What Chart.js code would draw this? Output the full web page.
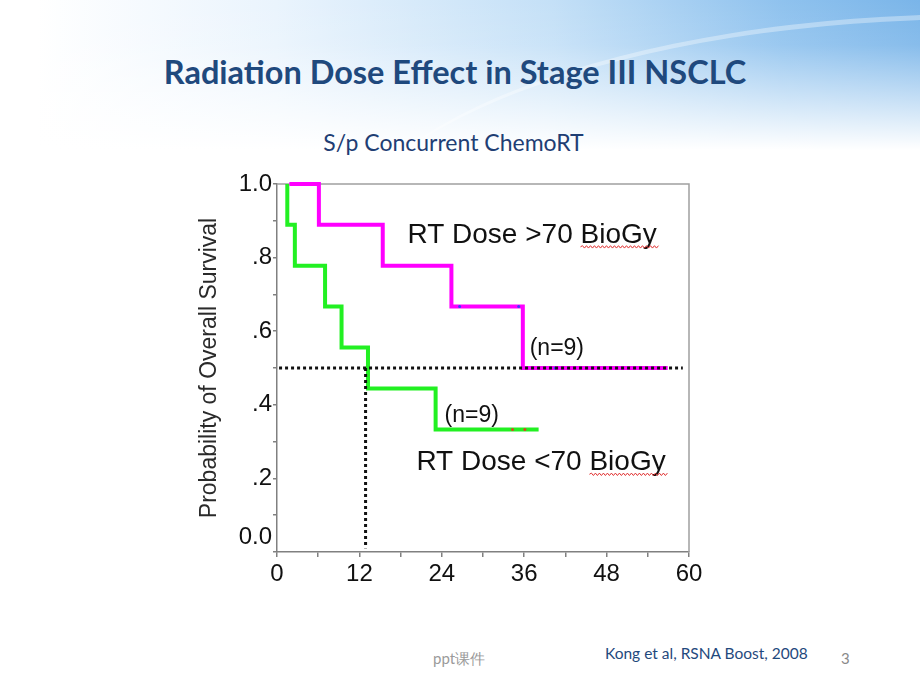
<!DOCTYPE html>
<html>
<head>
<meta charset="utf-8">
<script src="https://cdn.jsdelivr.net/npm/chart.js@4"></script>
<style>
  html, body { margin: 0; padding: 0; background: #fff; }
  #slide { position: relative; width: 920px; height: 690px; overflow: hidden; background: #fff; font-family: Lato, 'Open Sans', sans-serif; }
  #header { position: absolute; left: 0; top: 0; width: 920px; height: 150px;
    background:
      linear-gradient(to bottom, rgba(255,255,255,0) 0%, rgba(255,255,255,0.1) 30%, #fff 100%),
      linear-gradient(90deg, #ffffff 4%, #eaf4fd 30%, #c4e0f7 60%, #8fc2ee 85%, #7ab5e9 100%); }
  #swoosh { position: absolute; left: 330px; top: 14px; width: 1300px; height: 500px; border-radius: 50%;
    border-top: 5px solid rgba(255,255,255,0.35); }
  #title { position: absolute; left: 0; width: 910px; top: 52px; text-align: center;
    font-weight: 700; font-size: 32.5px; color: #1f497d; }
  #subtitle { position: absolute; left: 0; width: 907px; top: 128px; text-align: center;
    font-size: 23px; color: #1f3e74; }
  #chartBox { position: absolute; left: 190px; top: 160px; width: 520px; height: 440px; }
  .foot { position: absolute; }
  #src { left: 605px; top: 644px; font-size: 15.5px; color: #1f497d; }
  #ppt { left: 433px; top: 649px; font-size: 15px; color: #9a9a9a; }
  #page { left: 841px; top: 649px; font-size: 15px; color: #8a8a8a; }
</style>
</head>
<body>
<div id="slide">
  <div id="header"></div>
  <div id="swoosh"></div>
  <div id="title">Radiation Dose Effect in Stage III NSCLC</div>
  <div id="subtitle">S/p Concurrent ChemoRT</div>
  <div id="chartBox"><canvas id="kmChart"></canvas></div>
  <div class="foot" id="ppt">ppt课件</div>
  <div class="foot" id="src">Kong et al, RSNA Boost, 2008</div>
  <div class="foot" id="page">3</div>
</div>
<script>
// Kaplan-Meier steps (months, survival probability)
const monthsHigh = [1.8, 6.1, 15.4, 25.4, 35.8, 56.9];
const survivalHigh = [1.0, 0.889, 0.778, 0.667, 0.5, 0.5];
const monthsLow = [1.5, 1.5, 2.6, 7.0, 9.4, 13.25, 23.1, 38.1];
const survivalLow = [1.0, 0.889, 0.778, 0.667, 0.556, 0.444, 0.333, 0.333];

// censor marks
const censorHighMonths = [26.6, 35.2, 40.5];
const censorHighSurv = [0.667, 0.667, 0.5];
const censorLowMonths = [34.3, 36.1];
const censorLowSurv = [0.333, 0.333];

// median guide lines
const medianSurv = 0.5;
const medianLineMonths = [0.3, 59.1];
const medianLowMonth = 12.9;

const xMax = 60;
const xStep = 6;
const yStep = 0.1;

const groupLabels = ['RT Dose >70 BioGy', 'RT Dose <70 BioGy'];
const countLabels = ['(n=9)', '(n=9)'];

const toPoints = (xs, ys) => xs.map((x, i) => ({ x: x, y: ys[i] }));

const narrow = "'Liberation Sans Narrow', 'Liberation Sans', Arial, sans-serif";
const sans = "'Liberation Sans', Arial, sans-serif";

// text placed in data coordinates
const notes = [
  { text: groupLabels[0], x: 19.0, y: 0.84, size: 28, squiggle: 'BioGy' },
  { text: countLabels[0], x: 36.8, y: 0.535, size: 23 },
  { text: countLabels[1], x: 24.4, y: 0.352, size: 23 },
  { text: groupLabels[1], x: 20.3, y: 0.222, size: 28, squiggle: 'BioGy' }
];

const framePlugin = {
  id: 'frame',
  beforeDatasetsDraw(chart) {
    const a = chart.chartArea;
    const ctx = chart.ctx;
    ctx.save();
    ctx.strokeStyle = '#a0a0a0';
    ctx.lineWidth = 1.5;
    ctx.beginPath();
    ctx.moveTo(a.left, a.top);
    ctx.lineTo(a.right, a.top);
    ctx.lineTo(a.right, a.bottom);
    ctx.stroke();
    ctx.restore();
  },
  afterDraw(chart) {
    // SPSS lifts the zero label above the corner
    const ys = chart.scales.y;
    const ctx = chart.ctx;
    ctx.save();
    ctx.font = '24px ' + narrow;
    ctx.fillStyle = '#111';
    ctx.textAlign = 'right';
    ctx.textBaseline = 'middle';
    ctx.fillText('0.0', ys.right - 5, ys.getPixelForValue(0) - 15);
    ctx.restore();
  }
};

const notesPlugin = {
  id: 'notes',
  afterDatasetsDraw(chart) {
    const ctx = chart.ctx;
    const xs = chart.scales.x, ys = chart.scales.y;
    ctx.save();
    notes.forEach(n => {
      const px = xs.getPixelForValue(n.x);
      const py = ys.getPixelForValue(n.y);
      ctx.font = n.size + 'px ' + sans;
      ctx.fillStyle = '#111';
      ctx.textBaseline = 'alphabetic';
      ctx.textAlign = 'left';
      ctx.fillText(n.text, px, py);
      if (n.squiggle) {
        const full = ctx.measureText(n.text).width;
        const w = ctx.measureText(n.squiggle).width;
        const sx = px + full - w;
        const sy = py + 4;
        ctx.strokeStyle = '#e03030';
        ctx.lineWidth = 1;
        ctx.beginPath();
        ctx.moveTo(sx, sy);
        let up = true;
        for (let x = sx; x < sx + w; x += 2) {
          ctx.lineTo(x + 2, sy + (up ? -1.2 : 1.2));
          up = !up;
        }
        ctx.stroke();
      }
    });
    ctx.restore();
  }
};

new Chart(document.getElementById('kmChart'), {
  type: 'line',
  data: {
    datasets: [
      {
        label: 'median',
        data: toPoints(medianLineMonths, [medianSurv, medianSurv]),
        borderColor: '#111',
        borderWidth: 3,
        borderDash: [3, 3],
        pointRadius: 0,
        clip: 8
      },
      {
        label: 'median low',
        data: toPoints([medianLowMonth, medianLowMonth], [medianSurv, 0.01]),
        borderColor: '#111',
        borderWidth: 3,
        borderDash: [3, 3],
        pointRadius: 0,
        clip: 8
      },
      {
        label: 'censor high',
        data: toPoints(censorHighMonths, censorHighSurv),
        showLine: false,
        pointRadius: 1.5,
        pointBackgroundColor: '#3b3bff',
        pointBorderWidth: 0,
        clip: 8
      },
      {
        label: 'censor low',
        data: toPoints(censorLowMonths, censorLowSurv),
        showLine: false,
        pointRadius: 1.5,
        pointBackgroundColor: '#e04020',
        pointBorderWidth: 0,
        clip: 8
      },
      {
        label: groupLabels[0],
        data: toPoints(monthsHigh, survivalHigh),
        stepped: 'before',
        borderColor: '#ff00ff',
        borderWidth: 4,
        pointRadius: 0,
        borderCapStyle: 'butt',
        borderJoinStyle: 'miter',
        clip: 8
      },
      {
        label: groupLabels[1],
        data: toPoints(monthsLow, survivalLow),
        stepped: 'before',
        borderColor: '#22f022',
        borderWidth: 4,
        pointRadius: 0,
        borderCapStyle: 'butt',
        borderJoinStyle: 'miter',
        clip: 8
      }
    ]
  },
  options: {
    responsive: true,
    maintainAspectRatio: false,
    animation: false,
    layout: { padding: { left: 0, right: 21, top: 24, bottom: 0 } },
    plugins: {
      legend: { display: false },
      tooltip: { enabled: false }
    },
    scales: {
      x: {
        type: 'linear',
        min: 0,
        max: xMax,
        afterFit(scale) { scale.height = 48; },
        border: { color: '#808080', width: 1.5 },
        grid: { drawOnChartArea: false, drawTicks: true, tickLength: 5, color: '#808080', lineWidth: 1.5 },
        ticks: {
          stepSize: xStep,
          padding: 3,
          maxRotation: 0,
          color: '#111',
          font: { family: narrow, size: 24 },
          callback: v => (v % 12 === 0 ? String(v) : '')
        }
      },
      y: {
        min: 0,
        max: 1,
        afterFit(scale) { scale.width = 87; },
        border: { color: '#808080', width: 1.5 },
        grid: { drawOnChartArea: false, drawTicks: true, tickLength: 4, color: '#808080', lineWidth: 1.5 },
        title: {
          display: true,
          text: 'Probability of Overall Survival',
          color: '#2a2a2a',
          font: { family: sans, size: 23 },
          padding: { top: 6, bottom: 0 }
        },
        ticks: {
          stepSize: yStep,
          padding: 1,
          color: '#111',
          font: { family: narrow, size: 24 },
          callback: v => {
            const r = Math.round(v * 10);
            if (r % 2 !== 0 || r === 0) return ' ';
            if (r === 10) return '1.0';
            return '.' + r;
          }
        }
      }
    }
  },
  plugins: [framePlugin, notesPlugin]
});
</script>
</body>
</html>
